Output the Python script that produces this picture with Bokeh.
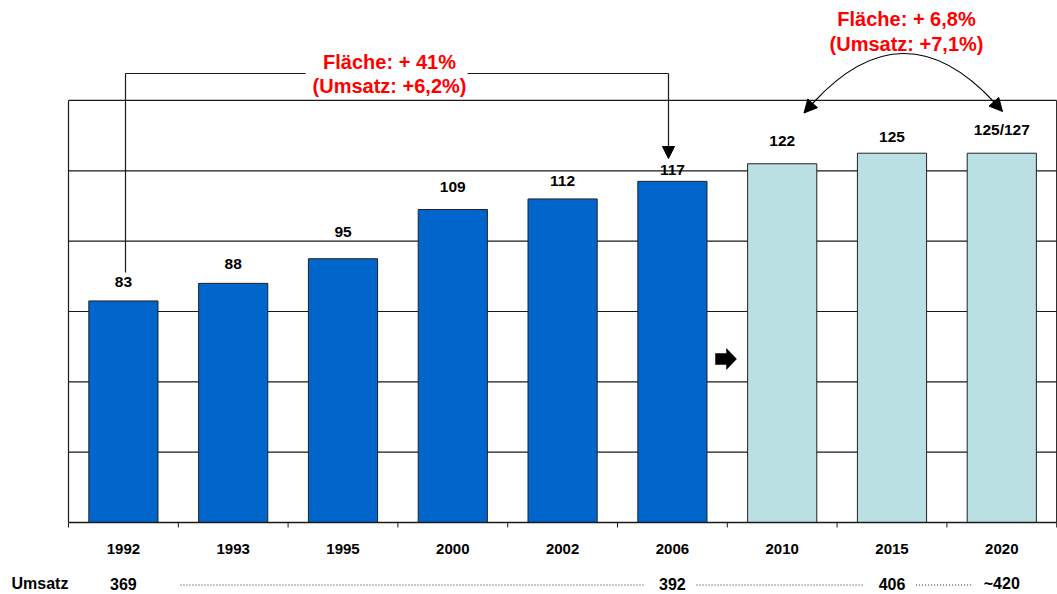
from bokeh.plotting import figure
from bokeh.models import Range1d, Arrow, NormalHead
from bokeh.core.properties import value
from bokeh.embed import file_html
from bokeh.resources import INLINE

# ---------------- data ----------------
years = ["1992", "1993", "1995", "2000", "2002", "2006", "2010", "2015", "2020"]
flaeche = [83, 88, 95, 109, 112, 117, 122, 125, 125]
flaeche_labels = ["83", "88", "95", "109", "112", "117", "122", "125", "125/127"]
prognose = [False, False, False, False, False, False, True, True, True]
umsatz_years = ["1992", "2006", "2015", "2020"]
umsatz_labels = ["369", "392", "406", "~420"]
y_min = 20
gridlines = [40, 60, 80, 100, 120, 140]
note_left = ["Fläche: + 41%", "(Umsatz: +6,2%)"]
note_right = ["Fläche: + 6,8%", "(Umsatz: +7,1%)"]

# ---------------- layout helpers (pixel -> data) ----------------
W, H = 1057, 594
XPX0, XS = 68.0, 109.8          # x=0 at 68px, px per category
YPX0, K = 522.0, 3.517          # y=y_min at 522px, px per unit


def dx(px):
    return (px - XPX0) / XS


def dy(py):
    return y_min + (YPX0 - py) / K


FONT = value("Liberation Sans")
BLUE = "#0066CC"
LIGHT = "#BBE0E3"

p = figure(width=W, height=H, output_backend="svg", toolbar_location=None,
           x_range=Range1d(dx(0), dx(W)), y_range=Range1d(dy(H), dy(0)),
           min_border=0, min_border_left=0, min_border_right=0,
           min_border_top=0, min_border_bottom=0)
p.axis.visible = False
p.grid.visible = False
p.outline_line_color = None
p.background_fill_color = "white"
p.border_fill_color = "white"

n = len(years)
xc = [i + 0.5 for i in range(n)]

# gridlines + frame
p.segment(x0=[0] * len(gridlines), x1=[n] * len(gridlines), y0=gridlines, y1=gridlines,
          line_color="#1a1a1a", line_width=1.2)
p.segment(x0=[0, n], x1=[0, n], y0=[y_min, y_min], y1=[max(gridlines)] * 2,
          line_color="#1a1a1a", line_width=1.2)

# bars
colors = [LIGHT if f else BLUE for f in prognose]
p.vbar(x=xc, top=flaeche, bottom=y_min, width=0.63, fill_color=colors,
       line_color="#222222", line_width=1)

# axis line + boundary ticks
p.segment(x0=[0], x1=[n], y0=[y_min], y1=[y_min], line_color="#1a1a1a", line_width=1.3)
p.segment(x0=list(range(n + 1)), x1=list(range(n + 1)), y0=[y_min] * (n + 1),
          y1=[y_min - 5 / K] * (n + 1), line_color="#1a1a1a", line_width=1)

# value labels
label_dy_px = [19, 19, 27, 22, 18, 11, 23, 16, 24]
p.text(x=xc, y=[v + d / K for v, d in zip(flaeche, label_dy_px)], text=flaeche_labels,
       text_font=FONT, text_font_style="bold", text_font_size="15.5px",
       text_align="center", text_baseline="middle", text_color="black")

# year labels
p.text(x=xc, y=[dy(548)] * n, text=years, text_font=FONT, text_font_style="bold",
       text_font_size="15px", text_align="center", text_baseline="middle", text_color="black")

# Umsatz row
p.text(x=[dx(11)], y=[dy(583)], text=["Umsatz"], text_font=FONT, text_font_style="bold",
       text_font_size="16px", text_align="left", text_baseline="middle", text_color="black")
ux = [years.index(y) + 0.5 for y in umsatz_years]
p.text(x=ux, y=[dy(583)] * len(ux), text=umsatz_labels, text_font=FONT,
       text_font_style="bold", text_font_size="16px", text_align="center",
       text_baseline="middle", text_color="black")
x0s = [ux[0] + 0.52] + [u + 0.22 for u in ux[1:-1]]
x1s = [u - 0.26 for u in ux[1:]]
p.segment(x0=x0s, x1=x1s, y0=[dy(584.5)] * len(x0s), y1=[dy(584.5)] * len(x0s),
          line_color="#222222", line_width=1, line_dash="1 2")

# left bracket annotation (1992 -> 2006)
bx0 = dx(125)
bx1 = dx(668)
by = dy(73)
p.segment(x0=[bx0, bx0, dx(467)], x1=[bx0, dx(305), bx1], y0=[dy(272), by, by],
          y1=[by, by, by], line_color="#1a1a1a", line_width=1.2)
p.add_layout(Arrow(end=NormalHead(size=12, fill_color="black", line_color="black"),
                   x_start=bx1, y_start=by, x_end=bx1, y_end=dy(158),
                   line_color="#1a1a1a", line_width=1.2))
p.text(x=[dx(389)] * 2, y=[dy(61), dy(85)], text=note_left, text_font=FONT,
       text_font_style="bold", text_font_size="20px", text_align="center",
       text_baseline="middle", text_color="#FF0000")

# right curved double arrow (2010 <-> 2020)
p.quadratic(x0=[dx(812)], y0=[dy(103)], x1=[dx(994)], y1=[dy(102)],
            cx=[dx(903)], cy=[dy(3.5)], line_color="black", line_width=1.2)
p.add_layout(Arrow(end=NormalHead(size=13, fill_color="black", line_color="black"),
                   x_start=dx(812), y_start=dy(103), x_end=dx(803.5), y_end=dy(112.5),
                   line_color="black", line_width=1.2))
p.add_layout(Arrow(end=NormalHead(size=13, fill_color="black", line_color="black"),
                   x_start=dx(994), y_start=dy(102), x_end=dx(1002), y_end=dy(111),
                   line_color="black", line_width=1.2))
p.text(x=[dx(906)] * 2, y=[dy(18), dy(43)], text=note_right, text_font=FONT,
       text_font_style="bold", text_font_size="20px", text_align="center",
       text_baseline="middle", text_color="#FF0000")

# small block arrow between actual and forecast
axp = [715, 726, 726, 736, 726, 726, 715]
ayp = [353, 353, 348, 358.5, 369, 364, 364]
p.patch(x=[dx(v) for v in axp], y=[dy(v) for v in ayp], fill_color="black",
        line_color="black", line_width=0.5)

open("out.html", "w").write(file_html(p, INLINE))
